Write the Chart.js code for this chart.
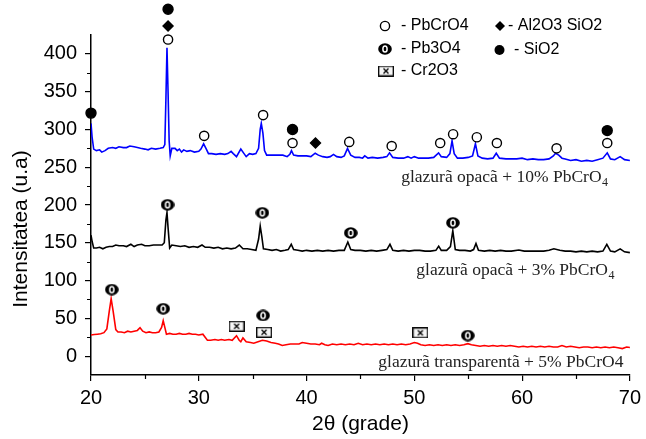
<!DOCTYPE html>
<html lang="ro">
<head>
<meta charset="UTF-8">
<title>Difractograme glazuri</title>
<script src="https://cdn.jsdelivr.net/npm/chart.js"></script>
<style>
  body { margin: 0; background: #fff; }
  #wrap { width: 646px; height: 439px; position: relative; }
</style>
</head>
<body>

<div id="wrap"><canvas id="xrd"></canvas></div>

<script>

// glazura opaca + 10% PbCrO4 (albastru)
const theta10 = [20.0, 20.1, 20.25, 20.5, 20.8, 21.0, 21.3, 21.6, 22.0, 22.3, 22.6, 23.0, 23.3, 23.6, 24.0, 24.3, 24.6, 25.0, 25.3, 25.6, 26.0, 26.4, 26.7, 26.85, 26.95, 27.05, 27.15, 27.25, 27.35, 27.5, 27.8, 28.0, 28.2, 28.4, 28.6, 28.9, 29.2, 29.6, 30.0, 30.2, 30.45, 30.7, 30.9, 31.2, 31.6, 32.0, 32.4, 32.7, 33.0, 33.2, 33.5, 33.9, 34.2, 34.4, 34.7, 35.0, 35.3, 35.55, 35.7, 35.8, 35.95, 36.1, 36.3, 36.8, 37.3, 37.8, 38.2, 38.45, 38.6, 38.8, 39.2, 39.6, 40.0, 40.4, 40.8, 41.1, 41.5, 41.9, 42.2, 42.5, 42.8, 43.2, 43.5, 43.8, 44.1, 44.5, 44.9, 45.2, 45.4, 45.7, 46.1, 46.6, 47.1, 47.45, 47.7, 48.0, 48.5, 49.0, 49.4, 49.7, 50.0, 50.4, 50.8, 51.3, 51.8, 52.25, 52.5, 53.0, 53.3, 53.5, 53.7, 54.0, 54.5, 55.0, 55.4, 55.67, 55.9, 56.3, 56.8, 57.3, 57.6, 57.9, 58.5, 59.0, 59.5, 60.0, 60.5, 61.0, 61.5, 62.0, 62.5, 62.9, 63.1, 63.4, 63.7, 64.0, 64.5, 65.0, 65.5, 66.0, 66.5, 67.0, 67.5, 67.9, 68.2, 68.6, 69.1, 69.5, 70.0];
const int10 = [308, 290, 274, 272, 273, 270, 272, 275, 276, 275, 277, 276, 276, 278, 277, 276, 275, 274, 273, 275, 274, 275, 276, 280, 340, 408, 350, 285, 265, 275, 275, 272, 274, 270, 273, 271, 272, 270, 271, 274, 281, 274, 268, 268, 267, 268, 267, 268, 271, 268, 264, 274, 268, 264, 268, 267, 268, 275, 300, 308, 295, 272, 266, 266, 266, 266, 264, 267, 272, 266, 265, 265, 265, 264, 268.5, 266, 264, 263, 264, 267, 264, 263, 265, 275, 266, 263, 263, 262, 265, 262, 263, 262, 263, 264, 269, 263, 262, 262, 264, 262, 264, 262, 262, 262, 263, 269, 264, 263, 268, 285, 268, 262, 262, 263, 265, 281, 265, 262, 261, 262, 268.5, 262, 261, 261, 261, 262, 260, 261, 260, 260, 261, 265, 268.5, 266, 262, 261, 259, 260, 258, 259, 258, 260, 262, 269, 261, 260, 264, 260, 259];

// glazura opaca + 3% PbCrO4 (negru)
const theta3 = [20.0, 20.1, 20.25, 20.5, 20.8, 21.1, 21.4, 21.7, 22.0, 22.3, 22.6, 23.0, 23.3, 23.7, 24.0, 24.3, 24.7, 25.0, 25.4, 25.8, 26.2, 26.6, 26.8, 26.95, 27.05, 27.15, 27.3, 27.5, 27.9, 28.3, 28.7, 29.1, 29.5, 29.9, 30.3, 30.6, 31.0, 31.4, 31.8, 32.2, 32.6, 33.0, 33.4, 33.76, 34.1, 34.5, 34.9, 35.3, 35.55, 35.7, 35.85, 36.0, 36.4, 36.8, 37.2, 37.6, 38.0, 38.3, 38.58, 38.8, 39.2, 39.6, 40.0, 40.5, 41.0, 41.5, 42.0, 42.5, 43.0, 43.5, 43.83, 44.1, 44.5, 45.0, 45.5, 46.0, 46.5, 47.0, 47.45, 47.74, 48.0, 48.5, 49.0, 49.5, 50.0, 50.5, 51.0, 51.5, 52.0, 52.26, 52.5, 53.0, 53.35, 53.57, 53.8, 54.2, 54.7, 55.2, 55.5, 55.72, 55.95, 56.5, 57.0, 57.5, 58.0, 58.5, 59.0, 59.7, 60.2, 60.8, 61.5, 62.0, 62.5, 62.95, 63.5, 64.0, 64.5, 65.0, 65.5, 66.0, 66.5, 67.0, 67.5, 67.86, 68.2, 68.6, 69.1, 69.5, 70.0];
const int3 = [160, 152, 143, 143, 144, 142, 144, 145, 145, 147, 146, 146, 145, 148, 145, 147, 148, 146, 146, 147, 147, 147, 150, 180, 190, 170, 143, 147, 146, 145, 146, 144, 145, 144, 147, 144, 144, 143, 144, 142, 143, 142, 143, 147, 142, 142, 141, 140, 155, 172, 158, 142, 141, 140, 141, 139, 140, 141, 148, 141, 140, 139, 140, 139, 140, 139, 140, 139, 140, 140, 151, 141, 140, 140, 139, 140, 139, 140, 141, 148, 140, 139, 140, 139, 140, 140, 139, 139, 140, 145.5, 140, 140, 145, 166, 141, 140, 140, 139, 141, 149, 140, 139, 140, 139, 140, 139, 139, 140.5, 139, 139, 139, 139, 140, 142, 140, 139, 139, 138, 139, 138, 139, 138, 139, 148, 139, 138, 142, 138, 137];

// glazura transparenta + 5% PbCrO4 (rosu)
const theta5 = [20.0, 20.3, 20.6, 20.9, 21.2, 21.47, 21.7, 21.87, 22.05, 22.3, 22.5, 22.8, 23.1, 23.4, 23.7, 24.0, 24.3, 24.55, 24.8, 25.1, 25.4, 25.7, 26.0, 26.3, 26.55, 26.7, 26.85, 27.0, 27.3, 27.6, 27.9, 28.2, 28.5, 28.8, 29.1, 29.4, 29.7, 30.0, 30.38, 30.8, 31.1, 31.5, 31.8, 32.1, 32.4, 32.8, 33.1, 33.5, 33.75, 33.9, 34.1, 34.4, 34.8, 35.1, 35.5, 35.9, 36.3, 36.7, 37.1, 37.4, 37.75, 38.1, 38.5, 38.9, 39.3, 39.6, 40.0, 40.4, 40.8, 41.2, 41.4, 41.7, 42.0, 42.4, 42.8, 43.2, 43.6, 44.0, 44.4, 44.8, 45.2, 45.6, 46.0, 46.4, 46.8, 47.2, 47.6, 48.0, 48.4, 48.8, 49.2, 49.6, 50.0, 50.3, 50.6, 51.0, 51.4, 51.8, 52.2, 52.6, 53.0, 53.4, 53.8, 54.2, 54.6, 54.96, 55.3, 55.7, 56.1, 56.5, 56.9, 57.3, 57.7, 58.1, 58.5, 58.9, 59.3, 59.7, 60.1, 60.5, 60.9, 61.3, 61.7, 62.1, 62.5, 62.9, 63.3, 63.7, 64.1, 64.5, 64.9, 65.3, 65.7, 66.1, 66.5, 66.9, 67.3, 67.7, 68.1, 68.5, 68.9, 69.3, 69.7, 70.0];
const int5 = [28, 28.5, 29, 29.5, 31, 36, 60, 76, 60, 35, 32, 32, 31, 33, 32, 33, 34, 37.5, 33, 31, 32, 31, 31, 32, 38, 47, 38, 29, 30, 29, 29, 30, 29, 29, 30, 29, 29, 28, 29, 21, 21, 22, 21, 22, 21, 22, 21, 27, 21, 19, 24, 19, 18, 17, 19, 21, 20, 18, 17, 16, 14, 15, 16, 16, 16, 18, 17, 16, 16, 15, 17, 15, 14, 16, 15, 16, 15, 16, 15, 17, 15, 16, 15, 16, 15, 16, 15, 16, 15, 16, 15, 16, 18, 17, 15, 14, 15, 14, 15, 14, 15, 14, 15, 14, 15, 16.5, 15, 14, 13, 14, 13, 14, 13, 14, 13, 14, 13, 12, 13, 12, 13, 12, 13, 12, 13, 12, 12, 14, 12, 13, 12, 11, 12, 12, 11, 12, 11, 12, 11, 12, 11, 10, 12, 11.5];

// faze identificate (pozitia simbolurilor)
const pbcro4Theta = [27.15, 30.5, 35.97, 38.7, 43.96, 47.9, 52.4, 53.6, 55.8, 57.66, 63.2, 67.9];
const pbcro4Int = [419, 291.5, 319, 282, 283.5, 278, 282, 293.7, 289.7, 282, 275, 282];
const sio2Theta = [20.0, 27.15, 38.7, 67.9];
const sio2Int = [321.6, 459, 300, 298.5];
const alsiTheta = [27.15, 40.83];
const alsiInt = [437, 282];
const pb3o4Theta = [27.1, 35.9, 44.1, 53.58, 21.93, 26.7, 35.97, 54.96];
const pb3o4Int = [200.3, 189.7, 163, 176.4, 88, 62.7, 53.8, 27.2];
const cr2o3Theta = [33.51, 36.06, 50.56];
const cr2o3Int = [39.6, 31.6, 30.8];

const xTicks = [20, 30, 40, 50, 60, 70];
const xMinor = [25, 35, 45, 55, 65];
const yTicks = [0, 50, 100, 150, 200, 250, 300, 350, 400];
const yMinor = [25, 75, 125, 175, 225, 275, 325, 375];


function pts(xs, ys) {
    return xs.map((x, i) => ({ x: x, y: ys[i] }));
}


// simbolurile speciale: Pb3O4 si Cr2O3
function makePb3o4() {
    const c = document.createElement("canvas");
    c.width = 14; c.height = 12;
    const g = c.getContext("2d");
    g.fillStyle = "#000";
    g.beginPath();
    g.ellipse(7, 6, 6.8, 5.8, 0, 0, Math.PI * 2);
    g.fill();
    g.strokeStyle = "#fff";
    g.lineWidth = 1.5;
    g.beginPath();
    g.ellipse(7, 6, 2.1, 3.1, 0, 0, Math.PI * 2);
    g.stroke();
    return c;
}

function makeCr2o3() {
    const c = document.createElement("canvas");
    c.width = 16; c.height = 11;
    const g = c.getContext("2d");
    g.fillStyle = "#f6f6f6";
    g.fillRect(0.5, 0.5, 15, 10);
    g.strokeStyle = "#000";
    g.lineWidth = 1.3;
    g.strokeRect(0.7, 0.7, 14.6, 9.6);
    g.beginPath();
    g.moveTo(5.5, 3); g.lineTo(10.5, 8);
    g.moveTo(10.5, 3); g.lineTo(5.5, 8);
    g.stroke();
    return c;
}

const pb3o4Img = makePb3o4();
const cr2o3Img = makeCr2o3();


// texte pe grafic (pozitii in coordonate 2theta / intensitate)
const notes = [
    { text: "glazurã opacã + 10% PbCrO", sub: "4", x: 48.78, y: 230 },
    { text: "glazurã opacã + 3% PbCrO", sub: "4", x: 50.19, y: 107 },
    { text: "glazurã transparentã + 5% PbCrO4", sub: "", x: 46.66, y: -15 }
];


const extras = {
    id: "extras",

    // simbolurile care ies deasupra ariei graficului (Chart.js nu le deseneaza)
    afterDatasetsDraw(chart) {
        const ctx = chart.ctx;
        const area = chart.chartArea;
        chart.data.datasets.forEach((ds, i) => {
            if (ds.showLine) return;
            const meta = chart.getDatasetMeta(i);
            meta.data.forEach(p => {
                if (p.y >= area.top) return;
                ctx.save();
                ctx.fillStyle = ds.pointBackgroundColor;
                ctx.strokeStyle = ds.pointBorderColor;
                ctx.lineWidth = ds.pointBorderWidth;
                Chart.helpers.drawPoint(ctx, {
                    pointStyle: ds.pointStyle,
                    radius: ds.pointRadius,
                    rotation: 0,
                    borderWidth: ds.pointBorderWidth
                }, p.x, p.y);
                ctx.restore();
            });
        });
    },

    afterDraw(chart) {
        const ctx = chart.ctx;
        const sx = chart.scales.x;
        const sy = chart.scales.y;
        const area = chart.chartArea;

        // minor ticks
        ctx.save();
        ctx.strokeStyle = "#000";
        ctx.lineWidth = 1.2;
        ctx.beginPath();
        xMinor.forEach(v => {
            const px = Math.round(sx.getPixelForValue(v)) + 0.5;
            ctx.moveTo(px, area.bottom);
            ctx.lineTo(px, area.bottom + 4);
        });
        yMinor.forEach(v => {
            const py = Math.round(sy.getPixelForValue(v)) + 0.5;
            ctx.moveTo(area.left, py);
            ctx.lineTo(area.left - 4, py);
        });
        ctx.stroke();

        // titlu axa y
        ctx.fillStyle = "#000";
        ctx.font = '21px "Liberation Sans"';
        ctx.textAlign = "center";
        ctx.textBaseline = "middle";
        ctx.translate(21, 229);
        ctx.rotate(-Math.PI / 2);
        ctx.fillText("Intensitatea (u.a)", 0, 0);
        ctx.restore();

        // etichete probe
        ctx.save();
        ctx.fillStyle = "#222";
        ctx.textBaseline = "alphabetic";
        ctx.textAlign = "left";
        notes.forEach(n => {
            const px = sx.getPixelForValue(n.x);
            const py = sy.getPixelForValue(n.y);
            ctx.font = '17.5px "Liberation Serif"';
            ctx.fillText(n.text, px, py);
            if (n.sub) {
                const w = ctx.measureText(n.text).width;
                ctx.font = '12px "Liberation Serif"';
                ctx.fillText(n.sub, px + w + 0.5, py + 4);
            }
        });
        ctx.restore();

        // legenda faze
        ctx.save();
        ctx.fillStyle = "#000";
        ctx.strokeStyle = "#000";
        ctx.font = '16px "Liberation Sans"';
        ctx.textBaseline = "middle";
        ctx.textAlign = "left";

        ctx.lineWidth = 1.4;
        ctx.beginPath();
        ctx.arc(385, 26, 4.6, 0, Math.PI * 2);
        ctx.stroke();
        ctx.fillText("- PbCrO4", 401, 26);

        ctx.drawImage(pb3o4Img, 385 - 7, 49 - 6);
        ctx.fillText("- Pb3O4", 401, 49);

        ctx.drawImage(cr2o3Img, 386 - 8, 71 - 5.5);
        ctx.fillText("- Cr2O3", 401, 71);

        ctx.beginPath();
        ctx.moveTo(500, 21); ctx.lineTo(505, 26); ctx.lineTo(500, 31); ctx.lineTo(495, 26);
        ctx.closePath();
        ctx.fill();
        ctx.fillText("- Al2O3 SiO2", 508, 26);

        ctx.beginPath();
        ctx.arc(499.5, 50, 5, 0, Math.PI * 2);
        ctx.fill();
        ctx.fillText("- SiO2", 514, 50);
        ctx.restore();
    }
};


function markerSet(xs, ys, style, radius, fill) {
    return {
        data: pts(xs, ys),
        showLine: false,
        pointStyle: style,
        pointRadius: radius,
        pointBackgroundColor: fill,
        pointBorderColor: "#000",
        pointBorderWidth: 1.4,
        clip: false,
        order: 0
    };
}

function lineSet(xs, ys, color) {
    return {
        data: pts(xs, ys),
        showLine: true,
        borderColor: color,
        borderWidth: 1.6,
        pointRadius: 0,
        tension: 0,
        order: 1
    };
}


const chart = new Chart(document.getElementById("xrd"), {
    type: "scatter",
    data: {
        datasets: [
            lineSet(theta10, int10, "#0000ff"),
            lineSet(theta3, int3, "#000000"),
            lineSet(theta5, int5, "#ff0000"),
            markerSet(pbcro4Theta, pbcro4Int, "circle", 4.6, "#ffffff"),
            markerSet(sio2Theta, sio2Int, "circle", 5, "#000000"),
            markerSet(alsiTheta, alsiInt, "rectRot", 5, "#000000"),
            markerSet(pb3o4Theta, pb3o4Int, pb3o4Img, 5, "#000000"),
            markerSet(cr2o3Theta, cr2o3Int, cr2o3Img, 5, "#ffffff")
        ]
    },
    options: {
        responsive: true,
        maintainAspectRatio: false,
        animation: false,
        events: [],
        layout: { padding: { top: 35, right: 13, left: 0, bottom: 0 } },
        plugins: {
            legend: { display: false },
            tooltip: { enabled: false }
        },
        scales: {
            x: {
                type: "linear",
                min: 20,
                max: 70,
                afterBuildTicks: s => { s.ticks = xTicks.map(v => ({ value: v })); },
                afterFit: s => { s.height = 64; },
                ticks: {
                    color: "#000",
                    padding: 5,
                    font: { family: "Liberation Sans", size: 20 },
                    callback: v => v
                },
                grid: { drawOnChartArea: false, drawTicks: true, tickLength: 6, color: "#000", lineWidth: 1.2 },
                border: { display: true, color: "#000", width: 1.5 },
                title: {
                    display: true,
                    text: "2θ (grade)",
                    color: "#000",
                    font: { family: "Liberation Sans", size: 21 },
                    padding: { top: 0, bottom: 2 }
                }
            },
            y: {
                type: "linear",
                min: -25,
                max: 425,
                afterBuildTicks: s => { s.ticks = yTicks.map(v => ({ value: v })); },
                afterFit: s => { s.width = 91; },
                ticks: {
                    color: "#000",
                    padding: 8,
                    font: { family: "Liberation Sans", size: 20 },
                    callback: v => v
                },
                grid: { drawOnChartArea: false, drawTicks: true, tickLength: 6, color: "#000", lineWidth: 1.2 },
                border: { display: true, color: "#000", width: 1.5 }
            }
        }
    },
    plugins: [extras]
});

</script>
</body>
</html>
